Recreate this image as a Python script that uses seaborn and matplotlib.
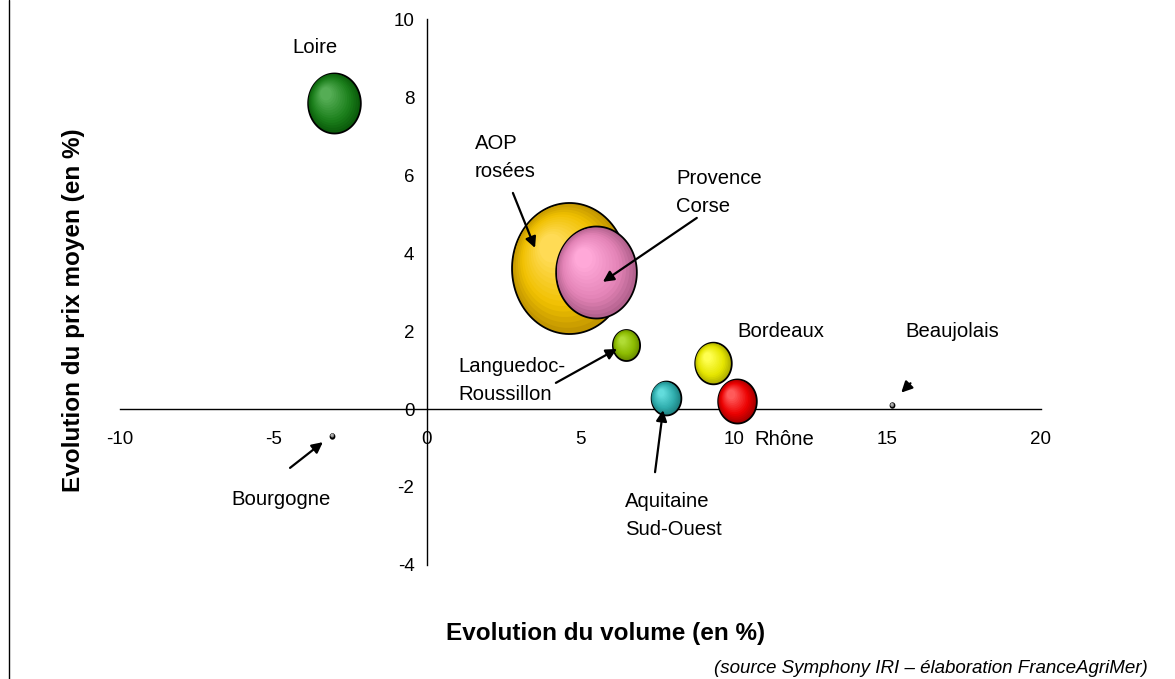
import numpy as np
import pandas as pd
import matplotlib
matplotlib.use("Agg")
import matplotlib.pyplot as plt
import seaborn as sns
from matplotlib.path import Path
from matplotlib.markers import MarkerStyle
from matplotlib.transforms import Affine2D
from matplotlib.lines import Line2D
from matplotlib.colors import to_rgb

# Data (bubble weight = relative bubble area)
regions = ["AOP rosées", "Provence Corse", "Loire", "Rhône", "Bordeaux",
           "Aquitaine Sud-Ouest", "Languedoc-Roussillon", "Beaujolais", "Bourgogne"]
volume = [4.63, 5.50, -3.03, 10.10, 9.32, 7.78, 6.50, 15.16, -3.08]
prix = [3.62, 3.51, 7.85, 0.20, 1.17, 0.28, 1.64, 0.10, -0.68]
poids = [100, 49.3, 21.0, 11.3, 10.1, 6.7, 5.6, 0.12, 0.12]

# bubble colours: edge shade, body, highlight
dark_cols = ["#c29600", "#b3628e", "#0b5c0b", "#a80000", "#b0b000", "#1f8585", "#6c9000", "#222222", "#222222"]
base_cols = ["#f0c000", "#e383b6", "#1c801c", "#ec0000", "#e6e600", "#2fadad", "#8cbb00", "#888888", "#888888"]
light_cols = ["#ffdb55", "#ffa8d8", "#55ad55", "#ff5a5a", "#ffff50", "#62dcdc", "#b0dc35", "#bbbbbb", "#bbbbbb"]

df = pd.DataFrame({"region": regions, "volume": volume, "prix": prix, "poids": poids})

sns.set_style("white")
plt.rcParams["font.family"] = ["Liberation Sans", "DejaVu Sans"]
plt.rcParams["axes.unicode_minus"] = False
plt.rcParams["text.color"] = "black"

fig = plt.figure(figsize=(11.75, 6.79), dpi=100)
ax = fig.add_axes([0.1021, 0.1679, 0.7838, 0.8041])

# slightly tall ellipse marker, like the original export
ASPECT = 1.14
theta = np.linspace(0, 2 * np.pi, 120)
ellipse = Path(np.column_stack([np.cos(theta), ASPECT * np.sin(theta)]), closed=True)
rx, ry = 0.5 / ASPECT, 0.5

n_layers = 14
fmin = 0.22
fracs = np.linspace(1.0, fmin, n_layers)


def shade(i, t):
    d, b, l = (np.array(to_rgb(c[i])) for c in (dark_cols, base_cols, light_cols))
    if t < 0.35:
        return tuple(d + (b - d) * t / 0.35)
    return tuple(b + (l - b) * (t - 0.35) / 0.65)


for i in df.sort_values("poids", ascending=False).index:
    sub = df.loc[[i]]
    for k, f in enumerate(fracs):
        t = (1 - f) / (1 - fmin)
        off = (1 - f) * 0.385
        ms = MarkerStyle(ellipse, transform=Affine2D().scale(f).translate(-off * rx, off * ry))
        sns.scatterplot(data=sub, x="volume", y="prix", size="poids",
                        sizes=(0, 8900), size_norm=(0, 100), marker=ms,
                        color=shade(i, t),
                        edgecolor="black" if k == 0 else "none",
                        linewidth=1.3 if k == 0 else 0,
                        legend=False, ax=ax, zorder=3 + i * 0.01)

ax.set_xlim(-10, 20)
ax.set_ylim(-4, 10)
ax.set_xticks(range(-10, 21, 5))
ax.set_yticks(range(-4, 11, 2))
ax.spines["left"].set_position(("data", 0))
ax.spines["bottom"].set_position(("data", 0))
ax.spines["top"].set_visible(False)
ax.spines["right"].set_visible(False)
for s in ("left", "bottom"):
    ax.spines[s].set_color("black")
    ax.spines[s].set_linewidth(1.0)
ax.tick_params(axis="both", direction="out", length=3.5, width=1, color="black",
               labelsize=13.5, labelcolor="black")
ax.tick_params(axis="x", pad=12.5)
ax.tick_params(axis="y", pad=5.5)

ax.set_xlabel("Evolution du volume (en %)", fontsize=17.5, fontweight="bold", color="black")
ax.xaxis.set_label_coords(0.527, -0.105)
ax.set_ylabel("Evolution du prix moyen (en %)", fontsize=17.5, fontweight="bold", color="black")
ax.yaxis.set_label_coords(-0.038, 0.467)

# labels
lab = dict(fontsize=14.6, color="black", va="center", ha="left", linespacing=1.6, zorder=5)
ax.text(-4.4, 9.28, "Loire", **lab)
ax.text(1.56, 6.46, "AOP\nrosées", **lab)
ax.text(8.11, 5.56, "Provence\nCorse", **lab)
ax.text(10.10, 2.0, "Bordeaux", **lab)
ax.text(15.6, 2.0, "Beaujolais", **lab)
ax.text(1.01, 0.72, "Languedoc-\nRoussillon", **lab)
ax.text(6.45, -2.72, "Aquitaine\nSud-Ouest", **lab)
ax.text(10.68, -0.79, "Rhône", **lab)
ax.text(-6.38, -2.33, "Bourgogne", **lab)

arrow = dict(arrowstyle="-|>", color="black", lw=1.6, mutation_scale=16, shrinkA=0, shrinkB=0)
for head, tail in [((3.52, 4.13), (2.80, 5.54)),
                   ((5.73, 3.26), (8.79, 4.90)),
                   ((15.45, 0.42), (15.75, 0.66)),
                   ((6.19, 1.54), (4.20, 0.67)),
                   ((7.69, -0.03), (7.43, -1.62)),
                   ((-3.39, -0.85), (-4.46, -1.51))]:
    ax.annotate("", xy=head, xytext=tail, arrowprops=arrow, zorder=6)

fig.text(0.977, 0.016, "(source Symphony IRI \u2013 élaboration FranceAgriMer)",
         fontsize=13.5, style="italic", ha="right", va="center", color="black")
fig.add_artist(Line2D([0.0077, 0.0077], [0, 1], color="black", lw=1.0))

fig.savefig("out.png", dpi=100)
